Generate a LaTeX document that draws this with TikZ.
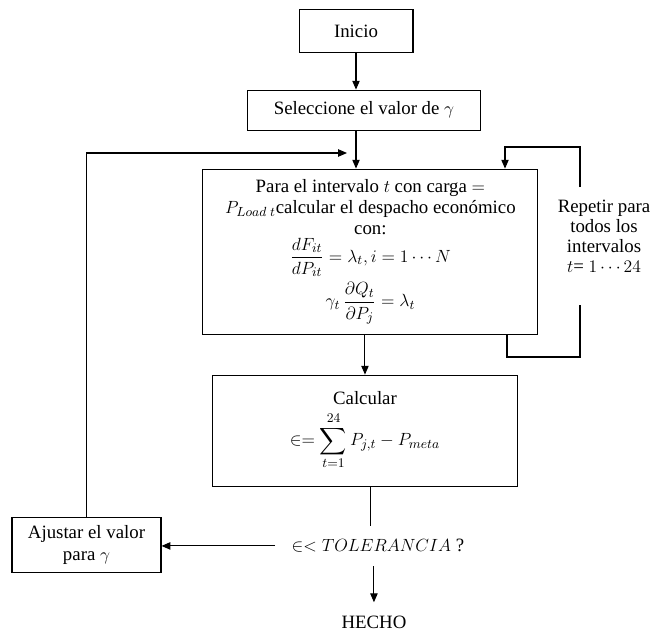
\documentclass[tikz,border=0pt]{standalone}
\usepackage{amsmath,amssymb}
\usepackage{fontspec}
\setmainfont{Liberation Serif}
\usetikzlibrary{arrows.meta,positioning}
\tikzset{
  box/.style={rectangle, draw=black, line width=0.7pt,
              font=\fontsize{12.8}{14.5}\selectfont, text centered, align=center},
  txt/.style={font=\fontsize{12.8}{13.5}\selectfont, align=center},
  arr/.style={-{Triangle[length=6pt,width=5pt]}, line width=0.7pt},
  wire/.style={line width=0.7pt},
}
\begin{document}
\begin{tikzpicture}[x=0.68pt, y=0.68pt]
        \useasboundingbox (0,0) rectangle (651,-632);
        \node[box, minimum width=77.5pt, minimum height=28.6pt] (ini)
              at (356,-31) {Inicio};
        \node[box, minimum width=159pt, minimum height=27.2pt,
              below=25.2pt of ini, xshift=5.4pt] (sel)
              {Seleccione el valor de $\gamma$};
        \node[box, minimum width=227.8pt, minimum height=112.2pt,
              below=25.8pt of sel, xshift=4.4pt] (para)
              {Para el intervalo $t$ con carga $=$\\
               $P_{Load\;t}$calcular el despacho económico\\
               con:\\[1pt]
               $\dfrac{dF_{it}}{dP_{it}} = \lambda_t, i = 1\cdots N$\\[3pt]
               $\gamma_t\,\dfrac{\partial Q_t}{\partial P_j} = \lambda_t$};
        \node[box, minimum width=208pt, minimum height=75.5pt,
              below=27.2pt of para, xshift=-3.7pt] (calc)
              {Calcular\\[4pt]
               $\displaystyle \in= \sum_{t=1}^{24} P_{j,t} - P_{meta}$};
        \node[txt, minimum height=27.2pt, inner xsep=11pt,
              below=26.5pt of calc, xshift=8.8pt] (tol)
              {$\in< TOLERANCIA$ ?};
        \node[txt, inner ysep=9pt, below=24.5pt of tol, xshift=-2.7pt] (hecho)
              {HECHO};
        \node[box, minimum width=101.3pt, minimum height=38pt] (ajus)
              at (86.5,-545) {Ajustar el valor\\para $\gamma$};
        \node[txt] (rep) at (604,-236)
              {Repetir para\\todos los\\intervalos\\$t$= $1\cdots24$};
        \coordinate (lp) at (347,-153);
        \coordinate (rb) at (507,-357);
        \coordinate (rlo) at (580,-305);
        \coordinate (rhi) at (580,-187);
        \coordinate (rt) at (505,-147);
        \draw[arr] (ini.south) -- (ini.south |- sel.north);
        \draw[arr] (ini.south |- sel.south) -- (ini.south |- para.north);
        \draw[arr] (calc.north |- para.south) -- (calc.north);
        \draw[wire] (para.south -| rb) -- (rb) -| (rlo);
        \draw[arr] (rhi) |- (rt) -- (para.north -| rt);
        \draw[wire] (para.south |- calc.south) -- (para.south |- tol.north);
        \draw[arr] (tol.west) -- (tol.west -| ajus.east);
        \draw[arr] (ajus.north) |- (lp);
        \draw[arr] (tol.south -| hecho.north) -- (hecho.north);
      \end{tikzpicture}
\end{document}
